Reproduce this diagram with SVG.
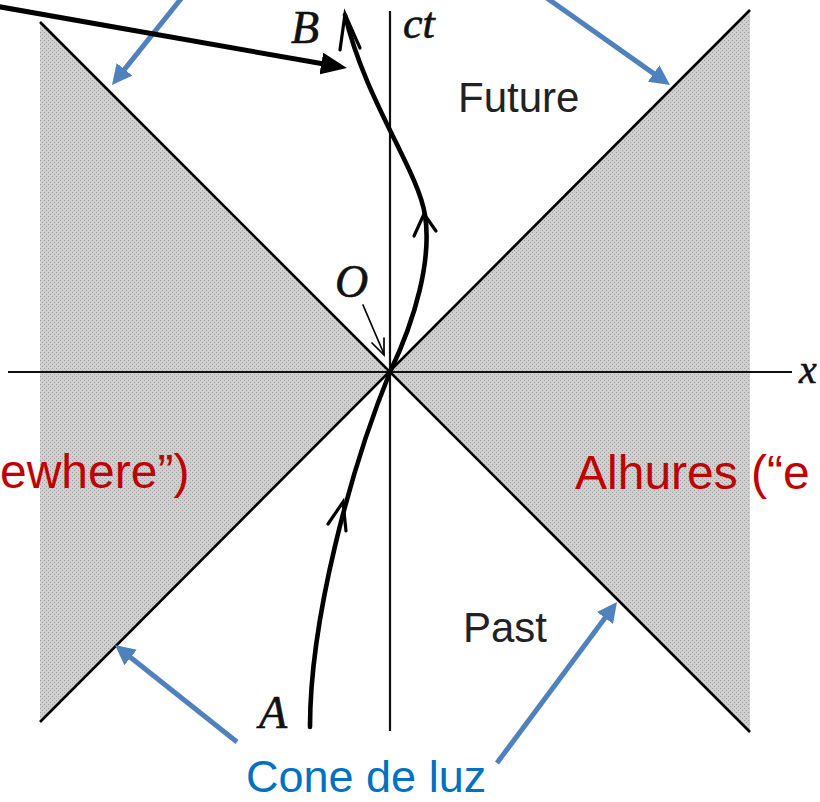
<svg xmlns="http://www.w3.org/2000/svg" width="820" height="802" viewBox="0 0 820 802">
  <style>
    .cone { stroke: #000; stroke-width: 2.6; fill: none; }
    .axis { stroke: #111; stroke-width: 2.2; fill: none; }
    .wl { stroke: #000; stroke-width: 4.6; fill: none; stroke-linecap: round; stroke-linejoin: round; }
    .chev { stroke: #000; stroke-width: 3.2; fill: none; stroke-linecap: round; stroke-linejoin: miter; }
    .thin { stroke: #000; stroke-width: 1.7; fill: none; stroke-linecap: round; }
    .blue { stroke: #4F81BD; stroke-width: 5; fill: none; }
    .math { font-family: "Liberation Serif", "DejaVu Serif", serif; font-style: italic; fill: #111; stroke: #111; stroke-width: 0.6; }
    .region { font-family: "Liberation Sans", Arial, sans-serif; font-size: 42px; fill: #222; }
    .red { font-family: "Liberation Sans", Arial, sans-serif; font-size: 48px; fill: #C00000; }
    .bluetxt { font-family: "Liberation Sans", Arial, sans-serif; font-size: 45px; fill: #0070C0; }
  </style>
  <defs>
    <pattern id="stipple" width="4" height="4" patternUnits="userSpaceOnUse">
      <rect width="4" height="4" fill="#cfcfcf"/>
      <rect x="0" y="0" width="1" height="1" fill="#a0a0a0"/>
      <rect x="2" y="2" width="1" height="1" fill="#a0a0a0"/>
    </pattern>
    <marker id="blueHead" viewBox="0 0 20 20" refX="8" refY="10" markerWidth="20" markerHeight="20" markerUnits="userSpaceOnUse" orient="auto">
      <path d="M0,0 L20,10 L0,20 z" fill="#4F81BD"/>
    </marker>
    <marker id="blackHead" viewBox="0 0 26 22" refX="10" refY="11" markerWidth="26" markerHeight="22" markerUnits="userSpaceOnUse" orient="auto">
      <path d="M0,0 L26,11 L0,22 z" fill="#000"/>
    </marker>
  </defs>

  <rect width="820" height="802" fill="#fff"/>

  <g id="elsewhere-left">
    <polygon points="40,22 390,372 40,722" fill="url(#stipple)"/>
  </g>
  <g id="elsewhere-right">
    <polygon points="750,10 390,372 750,732" fill="url(#stipple)"/>
  </g>

  <g id="light-cone">
    <line class="cone" x1="40" y1="22" x2="750" y2="732"/>
    <line class="cone" x1="40" y1="722" x2="750" y2="10"/>
  </g>

  <g id="axes">
    <line class="axis" x1="390" y1="11" x2="390" y2="731"/>
    <line class="axis" x1="8" y1="372" x2="792" y2="372"/>
    <text class="math" x="403" y="38" font-size="44">ct</text>
    <text class="math" x="799" y="383" font-size="40">x</text>
  </g>

  <g id="worldline">
    <path class="wl" d="M310,727 C310,620 350,470 390,372"/>
    <path class="wl" d="M390,372 C415,320 432,260 425,215 C418,170 365,100 345,15"/>
    <polyline class="chev" points="328,524 343,502 346,531"/>
    <polyline class="chev" points="414,236 424,214 436,231"/>
    <polyline class="chev" points="340,50 345,14 360,48"/>
  </g>

  <g id="event-A">
    <text class="math" x="259" y="728" font-size="46">A</text>
  </g>
  <g id="event-B">
    <text class="math" x="291" y="43" font-size="46">B</text>
  </g>
  <g id="event-O">
    <text class="math" x="335" y="297" font-size="46">O</text>
    <line class="thin" x1="363" y1="305" x2="384" y2="354"/>
    <polyline class="thin" points="372,343 384,355 384,338"/>
  </g>

  <g id="future">
    <text class="region" x="458" y="112">Future</text>
  </g>
  <g id="past">
    <text class="region" x="463" y="642">Past</text>
  </g>

  <g id="label-elsewhere">
    <text class="red" x="0" y="488">ewhere”)</text>
    <text class="red" x="575" y="489">Alhures (“e</text>
  </g>

  <g id="label-cone">
    <text class="bluetxt" x="246" y="792">Cone de luz</text>
  </g>

  <g id="connectors">
    <line class="blue" x1="184" y1="-5" x2="119.5" y2="75.6" marker-end="url(#blueHead)"/>
    <line class="blue" x1="544" y1="-4" x2="660.2" y2="78.1" marker-end="url(#blueHead)"/>
    <line class="blue" x1="237" y1="742" x2="124.4" y2="652.5" marker-end="url(#blueHead)"/>
    <line class="blue" x1="497" y1="763" x2="609.8" y2="611.6" marker-end="url(#blueHead)"/>
    <line stroke="#000" stroke-width="5" x1="-5" y1="6" x2="331.2" y2="65.3" marker-end="url(#blackHead)"/>
  </g>
</svg>
